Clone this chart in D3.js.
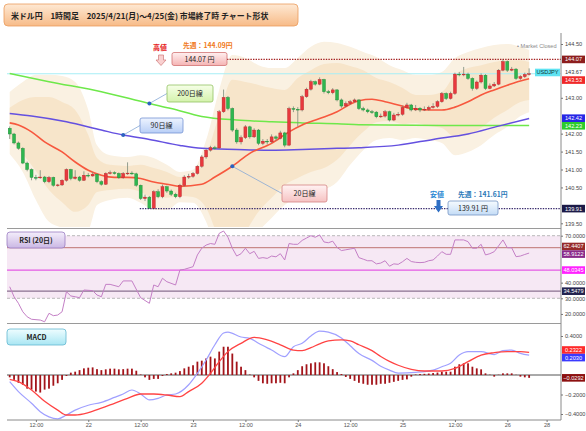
<!DOCTYPE html>
<html><head><meta charset="utf-8">
<script src="https://cdn.jsdelivr.net/npm/d3@7"></script>
<style>body{margin:0;background:#fff;}svg{display:block;font-family:"Noto Sans CJK JP","Noto Sans",sans-serif;}</style>
</head><body><svg id="c" width="586" height="431"></svg>
<script>
// ---------- DATA ----------
const openP=[142.15,141.99,141.74,141.59,141.18,141.00,140.78,140.77,140.79,140.66,
140.78,140.56,140.57,140.70,141.00,140.75,140.79,140.70,140.84,140.82,
140.87,140.66,140.59,140.89,140.91,140.89,140.77,140.89,140.90,140.88,
140.56,140.19,140.23,139.91,140.38,140.24,140.52,140.40,140.31,140.24,
140.56,140.79,140.81,140.89,141.09,141.35,141.54,141.61,141.60,142.61,
143.01,142.70,142.10,141.77,141.89,142.19,141.91,142.10,141.73,141.79,
141.77,141.91,141.87,142.02,141.68,142.70,142.68,142.66,143.03,143.24,
143.45,143.38,143.51,143.17,143.14,143.22,142.94,142.77,142.84,142.89,
142.94,142.70,142.66,142.61,142.60,142.47,142.49,142.61,142.38,142.52,
142.54,142.73,142.80,142.66,142.71,142.66,142.68,142.73,142.76,142.89,
143.12,142.98,143.12,143.66,143.65,143.66,143.54,143.26,143.44,143.63,
143.26,143.33,143.38,143.77,144.01,143.77,143.80,143.54,143.59,143.65];
const highP=[142.20,142.02,141.78,141.62,141.22,141.03,140.85,140.98,140.82,140.82,
140.80,140.60,140.73,141.03,141.02,140.98,140.82,140.95,140.90,140.92,
140.89,140.70,140.92,140.97,140.95,140.92,140.93,141.20,140.95,140.91,
140.58,140.30,140.26,140.42,140.45,140.58,140.55,140.44,140.35,140.60,
140.84,140.88,140.93,141.12,141.40,141.58,141.66,141.66,142.66,143.23,
143.05,142.73,142.15,141.95,142.24,142.22,142.15,142.13,141.85,141.85,
141.98,141.95,142.08,142.05,142.75,142.76,142.74,143.08,143.28,143.50,
143.48,143.57,143.53,143.22,143.27,143.24,142.98,142.90,142.94,142.98,
142.96,142.75,142.70,142.66,142.63,142.56,142.66,142.64,142.58,142.60,
142.78,142.86,142.83,142.80,142.74,142.76,142.78,142.85,142.93,143.16,
143.15,143.17,143.70,143.72,143.86,143.70,143.57,143.48,143.68,143.66,
143.40,143.44,143.80,144.07,144.04,143.86,143.83,143.63,143.70,143.82];
const lowP=[141.85,141.70,141.55,141.15,140.95,140.70,140.70,140.74,140.62,140.62,
140.52,140.52,140.54,140.66,140.70,140.72,140.66,140.68,140.78,140.80,
140.62,140.55,140.57,140.86,140.86,140.74,140.74,140.85,140.85,140.52,
140.15,140.12,139.91,139.91,140.20,140.20,140.35,140.26,140.20,140.20,
140.52,140.74,140.77,140.86,141.05,141.30,141.50,141.55,141.57,142.58,
142.65,142.05,141.72,141.70,141.85,141.86,141.88,141.68,141.68,141.70,
141.74,141.80,141.84,141.62,141.65,142.60,142.20,142.62,143.00,143.20,
143.34,143.35,143.12,143.10,143.10,142.90,142.72,142.74,142.80,142.86,
142.66,142.62,142.57,142.55,142.43,142.44,142.45,142.34,142.35,142.48,
142.50,142.70,142.62,142.63,142.60,142.63,142.64,142.70,142.72,142.86,
142.94,142.95,143.08,143.60,143.60,143.50,143.20,143.22,143.40,143.22,
143.24,143.30,143.35,143.74,143.72,143.74,143.50,143.50,143.55,143.62];
const closeP=[141.99,141.74,141.59,141.18,141.00,140.78,140.77,140.79,140.66,140.78,
140.56,140.57,140.70,141.00,140.75,140.79,140.70,140.84,140.82,140.87,
140.66,140.59,140.89,140.91,140.89,140.77,140.89,140.90,140.88,140.56,
140.19,140.23,139.91,140.38,140.24,140.52,140.40,140.31,140.24,140.56,
140.79,140.81,140.89,141.09,141.35,141.54,141.61,141.60,142.61,143.01,
142.70,142.10,141.77,141.89,142.19,141.91,142.10,141.73,141.79,141.77,
141.91,141.87,142.02,141.68,142.70,142.68,142.66,143.03,143.24,143.45,
143.38,143.51,143.17,143.14,143.22,142.94,142.77,142.84,142.89,142.94,
142.70,142.66,142.61,142.60,142.47,142.49,142.61,142.38,142.52,142.54,
142.73,142.80,142.66,142.71,142.66,142.68,142.73,142.76,142.89,143.12,
142.98,143.12,143.66,143.65,143.66,143.54,143.26,143.44,143.63,143.26,
143.33,143.38,143.77,144.01,143.77,143.80,143.54,143.59,143.65,143.67];

const sma20Idx=[0,2,5,8,12,15,18,21,24,27,30,33,36,39,44,47,51,55,60,64,67,71,75,78,80,83,86,89,92,96,99,102,105,108,111,114,117,119];
const sma20Val=[142.30,142.24,142.05,141.77,141.49,141.21,140.98,140.84,140.78,140.78,140.75,140.65,140.59,140.53,140.59,140.79,141.09,141.45,141.73,142.05,142.24,142.42,142.61,142.82,142.92,142.96,142.89,142.80,142.70,142.66,142.66,142.74,142.89,143.08,143.22,143.35,143.47,143.53];
const sma90Idx=[0,5,13,21,26,32,39,44,52,60,67,75,80,89,97,105,112,119];
const sma90Val=[142.56,142.49,142.33,142.10,141.96,141.84,141.67,141.59,141.56,141.54,141.56,141.59,141.61,141.68,141.84,141.99,142.21,142.42];
const sma200Idx=[0,9,21,32,37,44,52,60,67,76,80,99,119];
const sma200Val=[143.68,143.45,143.17,142.84,142.70,142.48,142.38,142.33,142.30,142.27,142.25,142.23,142.23];

const bandIdx=[0,3,6,9,12,15,18,20,23,27,30,33,36,39,42,45,48,51,54,57,60,63,66,69,72,75,78,81,84,87,90,93,96,99,102,105,108,111,114,117,119];
const bandU2=[143.16,143.44,143.64,143.64,143.61,143.44,142.66,141.68,141.40,141.35,141.40,141.32,141.13,140.93,140.99,141.82,143.22,144.19,144.11,143.91,143.83,143.83,144.11,144.42,144.56,144.53,144.42,144.28,144.14,143.91,143.77,143.64,143.64,143.72,144.11,144.28,144.39,144.47,144.50,144.42,144.33];
const bandU1=[142.72,142.94,143.02,143.02,142.88,142.66,141.96,141.32,141.13,141.10,141.13,141.04,140.93,140.79,140.82,141.40,142.52,143.50,143.44,143.36,143.27,143.22,143.55,143.77,143.94,143.97,143.89,143.77,143.55,143.44,143.27,143.08,143.08,143.16,143.64,143.83,143.91,144.00,144.05,144.05,144.00];
const bandL1=[141.88,141.43,140.96,140.43,140.09,139.82,140.01,140.37,140.43,140.46,140.37,140.21,140.21,140.26,140.23,139.93,139.09,138.76,139.26,139.82,140.21,140.57,140.76,140.93,141.04,141.27,141.68,142.05,142.32,142.35,142.27,142.30,142.21,142.16,141.91,141.96,142.16,142.44,142.66,142.88,142.94];
const bandL2=[141.43,140.93,140.15,139.54,139.37,139.17,139.31,140.01,140.15,140.21,140.07,139.87,139.87,140.09,140.07,139.54,138.48,138.06,138.62,139.26,139.65,140.01,140.21,140.29,140.43,140.65,141.13,141.54,141.82,141.88,141.82,141.88,141.82,141.74,141.40,141.49,141.68,141.96,142.19,142.49,142.60];

const rsiIdx=[0,1,2,3,4,5,7,8,9,10,11,12,13,14,15,16,17,19,20,21,22,23,25,26,28,30,32,33,34,35,36,38,39,40,42,43,44,45,46,47,48,49,50,51,52,53,54,55,56,57,58,59,60,61,62,63,64,65,66,67,68,69,70,71,72,73,74,75,76,77,78,79,80,81,82,83,84,85,86,87,88,89,90,91,92,93,94,95,96,97,98,99,100,101,102,103,104,105,106,107,108,109,110,111,112,113,114,115,116,117,118,119];
const rsiVal=[37.4,31,26.8,21.4,18.2,16.6,16.1,15.0,20.4,18.9,19.3,21.4,34.2,31.5,31,30.4,35.3,34.9,32.1,31,38.9,38.9,37.4,41.1,41.1,30.4,26.8,38.5,37.4,42.8,40.6,38.5,48.1,48.5,50.2,57.7,62,64,65,64.5,71.5,73,69,62,57,58.5,62,58.5,60,55.5,56,55.5,57,56.5,58.5,54.5,65,64.5,64.5,67,68.5,70,69,70.5,66,65.5,66.5,62.5,60.5,61,61.5,62,56,55,54,54,52,52.5,54,50.5,52,51.7,53.4,55.5,53.5,53,52.8,53,54,54.5,57,59.8,58.1,58.1,67.3,67.3,67.3,66.2,62,62,64.5,57.7,58.5,59.8,63.5,67.3,62.3,62.3,56.6,57,58,58.9];
const rsiRefLines=[62.4407,48.0345,34.5479];

const macdIdx=[0,2,5,7,9,11,13,15,18,21,24,26,28,30,32,34,36,38,41,43,45,47,49,50,53,55,57,60,63,65,67,69,71,73,76,78,80,83,85,87,89,93,97,99,101,103,105,108,111,113,115,117,119];
const macdVal=[-0.068,-0.17,-0.29,-0.376,-0.43,-0.45,-0.41,-0.36,-0.31,-0.28,-0.23,-0.195,-0.154,-0.195,-0.256,-0.239,-0.205,-0.195,-0.10,0.017,0.154,0.31,0.43,0.44,0.39,0.376,0.325,0.256,0.188,0.29,0.325,0.40,0.45,0.44,0.38,0.30,0.22,0.15,0.09,0.05,0.02,0.027,0.05,0.085,0.12,0.205,0.24,0.24,0.21,0.25,0.256,0.222,0.2030];
const sigIdx=[0,2,5,8,11,13,15,18,21,24,27,30,33,36,39,41,44,46,48,50,53,56,59,62,65,67,69,71,73,76,78,80,83,85,87,89,92,95,99,102,105,108,111,114,117,119];
const sigVal=[-0.044,-0.068,-0.154,-0.27,-0.36,-0.41,-0.41,-0.386,-0.34,-0.29,-0.24,-0.195,-0.195,-0.205,-0.222,-0.17,-0.085,0.017,0.137,0.24,0.325,0.386,0.36,0.31,0.256,0.25,0.28,0.32,0.35,0.36,0.35,0.31,0.25,0.19,0.14,0.10,0.058,0.041,0.041,0.068,0.137,0.205,0.229,0.24,0.24,0.2322];
const histVal=[-0.024,-0.05,-0.08,-0.10,-0.14,-0.15,-0.17,-0.18,-0.15,-0.14,
-0.11,-0.085,-0.05,-0.01,0.024,0.034,0.05,0.068,0.075,0.078,
0.06,0.05,0.058,0.065,0.065,0.058,0.06,0.065,0.065,0.044,
0.005,-0.024,-0.05,-0.04,-0.04,-0.01,0.01,0.017,0.024,0.04,
0.068,0.085,0.10,0.137,0.147,0.17,0.188,0.17,0.24,0.29,
0.29,0.22,0.137,0.085,0.05,0.005,-0.024,-0.06,-0.085,-0.09,
-0.085,-0.085,-0.08,-0.085,-0.024,0.017,0.05,0.09,0.11,0.12,
0.13,0.13,0.12,0.09,0.06,0.03,0.01,-0.02,-0.04,-0.06,
-0.08,-0.09,-0.10,-0.10,-0.10,-0.09,-0.09,-0.08,-0.07,-0.06,
-0.05,-0.045,-0.017,0.005,0.01,0.012,0.015,0.02,0.025,0.034,
0.034,0.034,0.085,0.11,0.12,0.12,0.085,0.068,0.058,0.017,
0.003,-0.017,0.003,0.017,0.017,0.017,0.002,-0.017,-0.024,-0.0292];

const xTickIdx=[6,18,30,42,54,66,78,90,102,114,123];
const xTickLabels=["12:00","22","12:00","23","12:00","24","12:00","25","12:00","26","28"];
const priceTicks=[139.5,140,140.5,141,141.5,142,142.5,143,143.5,144,144.5];
const rsiTicks=[20,30,40,50,60,70];
const macdTicks=[-0.4,-0.2,0,0.2,0.4];

const weekHigh=144.07, prevWeekHigh=144.09, weekLow=139.91, prevWeekLow=141.61, lastPrice=143.67;
const priceTags=[144.07,143.67,143.53,142.42,142.23,139.91];
const rsiTags=[62.4407,58.9122,48.0345,34.5479];
const macdTags=[0.2322,0.2030,-0.0292];

// ---------- SCALES ----------
const svg=d3.select('#c');
const x=d3.scaleLinear().domain([0,123]).range([9.7,546.6]);
const yP=d3.scaleLinear().domain([139.5,144.5]).range([223.3,44]);
const yR=d3.scaleLinear().domain([30,70]).range([298.3,235.7]);
const yM=d3.scaleLinear().domain([-0.4,0.4]).range([414,336]);
const L=7,R=561;

const defs=svg.append('defs');
function grad(id,c1,c2){const g=defs.append('linearGradient').attr('id',id).attr('x1',0).attr('y1',0).attr('x2',0).attr('y2',1);
 g.append('stop').attr('offset','0%').attr('stop-color',c1);g.append('stop').attr('offset','100%').attr('stop-color',c2);}
grad('gTitle','#fee9d4','#f7bb88');grad('gHigh','#fff0f0','#f5b4b4');grad('gLow','#f6fbff','#c4dcf6');
grad('g200','#f6ffe8','#d4f2ac');grad('g90','#eef4ff','#b8cef6');grad('g20','#fff3f3','#f6c2c2');
grad('gRsi','#f4eefb','#cbb8e4');grad('gMacd','#effdff','#a9e6f3');
function clip(id,y0,y1){defs.append('clipPath').attr('id',id).append('rect').attr('x',L).attr('y',y0).attr('width',R-L).attr('height',y1-y0);}
clip('cMain',30,227);clip('cRsi',229,323);clip('cMacd',324,420);

// ---------- TITLE ----------
svg.append('rect').attr('x',4).attr('y',4).attr('width',294).attr('height',22).attr('rx',4).attr('fill','url(#gTitle)').attr('stroke','#eb9d5e').attr('stroke-width',0.8);
svg.append('text').attr('x',11).attr('y',18.5).attr('font-size',7.9).attr('font-weight',600).attr('fill','#222')
 .text('米ドル円　1時間足　2025/4/21(月)～4/25(金) 市場終了時 チャート形状');

// ---------- MAIN PANEL ----------
const gm=svg.append('g').attr('clip-path','url(#cMain)');
const area=(up,lo)=>d3.area().x((d,i)=>x(bandIdx[i])).y0((d,i)=>yP(lo[i])).y1((d,i)=>yP(up[i])).curve(d3.curveMonotoneX);
gm.append('path').datum(bandIdx).attr('d',area(bandU2,bandL2)).attr('fill','#faf1e2');
gm.append('path').datum(bandIdx).attr('d',area(bandU1,bandL1)).attr('fill','#f7e5ca');
gm.append('line').attr('x1',L).attr('x2',R).attr('y1',yP(lastPrice)).attr('y2',yP(lastPrice)).attr('stroke','#a6eef6').attr('stroke-width',1);
const ln=(idx,vals,ys)=>d3.line().x((d,i)=>x(idx[i])).y((d,i)=>ys(vals[i])).curve(d3.curveMonotoneX)(idx);
gm.append('path').attr('d',ln(sma200Idx,sma200Val,yP)).attr('fill','none').attr('stroke','#6ee84a').attr('stroke-width',1.5);
gm.append('path').attr('d',ln(sma90Idx,sma90Val,yP)).attr('fill','none').attr('stroke','#6450e0').attr('stroke-width',1.5);
gm.append('path').attr('d',ln(sma20Idx,sma20Val,yP)).attr('fill','none').attr('stroke','#f7583e').attr('stroke-width',1.6);

const cg=gm.append('g');
closeP.forEach((c,i)=>{
  const o=openP[i],up=c>=o;
  const col=up?'#e8383d':'#2fb64f',sc=up?'#b52326':'#1d8a36';
  cg.append('line').attr('x1',x(i)).attr('x2',x(i)).attr('y1',yP(highP[i])).attr('y2',yP(lowP[i])).attr('stroke','#7a8a7a').attr('stroke-width',0.8);
  const y1=yP(Math.max(o,c)),y2=yP(Math.min(o,c));
  cg.append('rect').attr('x',x(i)-1.5).attr('width',3).attr('y',y1).attr('height',Math.max(0.8,y2-y1)).attr('fill',col).attr('stroke',sc).attr('stroke-width',0.4);
});

// high / low annotation lines
svg.append('line').attr('x1',227).attr('x2',R).attr('y1',yP(weekHigh)).attr('y2',yP(weekHigh)).attr('stroke','#a52222').attr('stroke-width',1.2).attr('stroke-dasharray','1.4,1.2');
svg.append('line').attr('x1',x(29.8)).attr('x2',R).attr('y1',yP(weekLow)).attr('y2',yP(weekLow)).attr('stroke','#3a2c6e').attr('stroke-width',1.2).attr('stroke-dasharray','1.4,1.2');

// high annotation
svg.append('text').attr('x',153).attr('y',50).attr('font-size',7).attr('font-weight',700).attr('fill','#e52020').text('高値');
svg.append('path').attr('d','M158.5,55 h5 v5 h2.5 l-5,5.5 l-5,-5.5 h2.5 z').attr('fill','#f9d0d0').attr('stroke','#d07a7a').attr('stroke-width',0.7);
svg.append('text').attr('x',183).attr('y',47.5).attr('font-size',6.8).attr('font-weight',700).attr('fill','#f07a1a').text('先週：'+prevWeekHigh.toFixed(2)+'円');
svg.append('rect').attr('x',172).attr('y',52.5).attr('width',55).attr('height',13).attr('rx',2).attr('fill','url(#gHigh)').attr('stroke','#d27272').attr('stroke-width',0.8);
svg.append('text').attr('x',199.5).attr('y',61.6).attr('text-anchor','middle').attr('font-size',7).attr('fill','#222').text(weekHigh.toFixed(2)+' 円');

// low annotation
svg.append('text').attr('x',430).attr('y',197).attr('font-size',7).attr('font-weight',700).attr('fill','#2a86d2').text('安値');
svg.append('text').attr('x',458).attr('y',197).attr('font-size',6.8).attr('font-weight',700).attr('fill','#2a7ab8').text('先週：'+prevWeekLow.toFixed(2)+'円');
svg.append('path').attr('d','M436.5,200 h4 v6 h2.5 l-4.5,6.5 l-4.5,-6.5 h2.5 z').attr('fill','#2f6fc4');
svg.append('rect').attr('x',448).attr('y',201).attr('width',50).attr('height',14).attr('rx',2).attr('fill','url(#gLow)').attr('stroke','#7594c4').attr('stroke-width',0.8);
svg.append('text').attr('x',473).attr('y',210.5).attr('text-anchor','middle').attr('font-size',7).attr('fill','#222').text(weekLow.toFixed(2)+' 円');

svg.append('text').attr('x',517).attr('y',48).attr('font-size',5.6).attr('fill','#8a8a8a').attr('font-family','Liberation Sans').text('• Market Closed');

// MA labels
function maLabel(px,py,bx,by,bw,bh,fill,stroke,text){
  const cy=by+bh/2;
  svg.append('line').attr('x1',px).attr('y1',py).attr('x2',bx).attr('y2',cy).attr('stroke','#86a8d6').attr('stroke-width',0.8);
  svg.append('circle').attr('cx',px).attr('cy',py).attr('r',2).attr('fill','#2b62bf');
  svg.append('rect').attr('x',bx).attr('y',by).attr('width',bw).attr('height',bh).attr('rx',2).attr('fill',fill).attr('stroke',stroke).attr('stroke-width',0.8);
  svg.append('text').attr('x',bx+bw/2).attr('y',cy+2.5).attr('text-anchor','middle').attr('font-size',7).attr('fill','#222').text(text);
}
maLabel(x(sma200Idx[3]),yP(sma200Val[3]),167,85,46,17,'url(#g200)','#93c262','200日線');
maLabel(x(sma90Idx[4]),yP(sma90Val[4]),140,118,43,15,'url(#g90)','#7393d3','90日線');
maLabel(x(sma20Idx[16]),yP(sma20Val[16]),282,185,45,17,'url(#g20)','#d48484','20日線');

// ---------- RSI PANEL ----------
const gr=svg.append('g').attr('clip-path','url(#cRsi)');
gr.append('rect').attr('x',L).attr('width',R-L).attr('y',yR(70)).attr('height',yR(30)-yR(70)).attr('fill','#f6e8f4');
[70,30].forEach(v=>gr.append('line').attr('x1',L).attr('x2',R).attr('y1',yR(v)).attr('y2',yR(v)).attr('stroke','#a8a8a8').attr('stroke-width',0.8).attr('stroke-dasharray','3,2'));
const refCols=['#c98a8a','#e45ae4','#8a7090'];
rsiRefLines.forEach((v,i)=>gr.append('line').attr('x1',L).attr('x2',R).attr('y1',yR(v)).attr('y2',yR(v)).attr('stroke',refCols[i]).attr('stroke-width',1.3));
gr.append('path').attr('d',d3.line().x((d,i)=>x(rsiIdx[i])).y((d,i)=>yR(rsiVal[i]))(rsiIdx)).attr('fill','none').attr('stroke','#c47fc6').attr('stroke-width',1);
svg.append('rect').attr('x',7).attr('y',232).attr('width',58).attr('height',16).attr('rx',3).attr('fill','url(#gRsi)').attr('stroke','#9a7cc2').attr('stroke-width',0.8);
svg.append('text').attr('x',36).attr('y',242.7).attr('text-anchor','middle').attr('font-size',7).attr('font-weight',700).attr('fill','#222').text('RSI (20日)');

// ---------- MACD PANEL ----------
const gmc=svg.append('g').attr('clip-path','url(#cMacd)');
gmc.append('line').attr('x1',L).attr('x2',R).attr('y1',yM(0)).attr('y2',yM(0)).attr('stroke','#555').attr('stroke-width',1);
histVal.forEach((v,i)=>{const y0=yM(0),y1=yM(v);
  gmc.append('rect').attr('x',x(i)-0.9).attr('width',1.8).attr('y',Math.min(y0,y1)).attr('height',Math.abs(y1-y0)).attr('fill','#a3141a');});
gmc.append('path').attr('d',ln(macdIdx,macdVal,yM)).attr('fill','none').attr('stroke','#a0a0ff').attr('stroke-width',1.2);
gmc.append('path').attr('d',ln(sigIdx,sigVal,yM)).attr('fill','none').attr('stroke','#ff4444').attr('stroke-width',1.3);
svg.append('rect').attr('x',7).attr('y',329).attr('width',59).attr('height',16).attr('rx',3).attr('fill','url(#gMacd)').attr('stroke','#62b8d0').attr('stroke-width',0.8);
svg.append('text').attr('x',36.5).attr('y',339.7).attr('text-anchor','middle').attr('font-size',7).attr('font-weight',700).attr('fill','#222').text('MACD');

// ---------- SEPARATORS / AXES ----------
[228.5,323.5].forEach(y=>svg.append('line').attr('x1',L).attr('x2',R).attr('y1',y).attr('y2',y).attr('stroke','#9a9a9a').attr('stroke-width',1));
svg.append('line').attr('x1',R).attr('x2',R).attr('y1',33).attr('y2',420).attr('stroke','#8a8a8a').attr('stroke-width',1);
function spread(ys,gap){const out=ys.slice();for(let k=0;k<5;k++){for(let i=1;i<out.length;i++){const d=out[i]-out[i-1];if(d<gap){const s=(gap-d)/2;out[i-1]-=s;out[i]+=s;}}}return out;}
const pTagY=spread(priceTags.map(v=>yP(v)),7.6);
const rTagY=spread(rsiTags.map(v=>yR(v)),7.6);
const mTagY=spread(macdTags.map(v=>yM(v)),7.6);
function yAxis(scale,ticks,fmt,tagYs){
  const vis=ticks.filter(t=>tagYs.every(ty=>Math.abs(scale(t)-ty)>=6.5));
  const g=svg.append('g').attr('transform',`translate(${R},0)`).call(d3.axisRight(scale).tickValues(vis).tickFormat(fmt).tickSize(2).tickPadding(2));
  g.select('.domain').remove();
  g.selectAll('text').attr('font-size',5.6).attr('fill','#444').attr('font-family','Liberation Sans');
  g.selectAll('line').attr('stroke','#777');
}
yAxis(yP,priceTicks,d3.format('.2f'),pTagY);
yAxis(yR,rsiTicks,d3.format('.4f'),rTagY);
yAxis(yM,macdTicks,d3.format('.4f'),mTagY);
const xa=svg.append('g').attr('transform','translate(0,420)').call(d3.axisBottom(x).tickValues(xTickIdx).tickFormat((d,i)=>xTickLabels[i]).tickSize(2).tickPadding(1.5));
xa.select('.domain').attr('d',`M${L},0H${R}`).attr('stroke','#8a8a8a');
xa.selectAll('text').attr('font-size',5.6).attr('fill','#555').attr('font-family','Liberation Sans');
xa.selectAll('line').attr('stroke','#777');

// ---------- VALUE TAGS ----------
function tags(vals,ys,fmt,styles){
  vals.forEach((v,i)=>{const st=styles[i],y=ys[i];
    if(st.bg){svg.append('rect').attr('x',562).attr('y',y-3.8).attr('width',23).attr('height',7.6).attr('fill',st.bg);}
    svg.append('text').attr('x',573.5).attr('y',y+2).attr('text-anchor','middle').attr('font-size',5.6).attr('font-family','Liberation Sans').attr('fill',st.fg).text(fmt(v));
  });
}
tags(priceTags,pTagY,d3.format('.2f'),[{bg:'#8c1d1d',fg:'#fff'},{bg:null,fg:'#333'},{bg:'#f02828',fg:'#fff'},{bg:'#2626e6',fg:'#fff'},{bg:'#2ccb2c',fg:'#fff'},{bg:'#1c1a48',fg:'#fff'}]);
svg.append('rect').attr('x',535).attr('y',pTagY[1]-3.8).attr('width',25).attr('height',7.6).attr('fill','#5fe3f2');
svg.append('text').attr('x',547.5).attr('y',pTagY[1]+2).attr('text-anchor','middle').attr('font-size',5.6).attr('font-family','Liberation Sans').attr('fill','#133').text('USDJPY');
tags(rsiTags,rTagY,d3.format('.4f'),[{bg:'#962a2a',fg:'#fff'},{bg:'#8a2a8a',fg:'#fff'},{bg:'#ff22ff',fg:'#fff'},{bg:'#23234f',fg:'#fff'}]);
tags(macdTags,mTagY,d3.format('.4f'),[{bg:'#ff2a2a',fg:'#fff'},{bg:'#3a3aff',fg:'#fff'},{bg:'#8c1010',fg:'#fff'}]);
</script></body></html>
